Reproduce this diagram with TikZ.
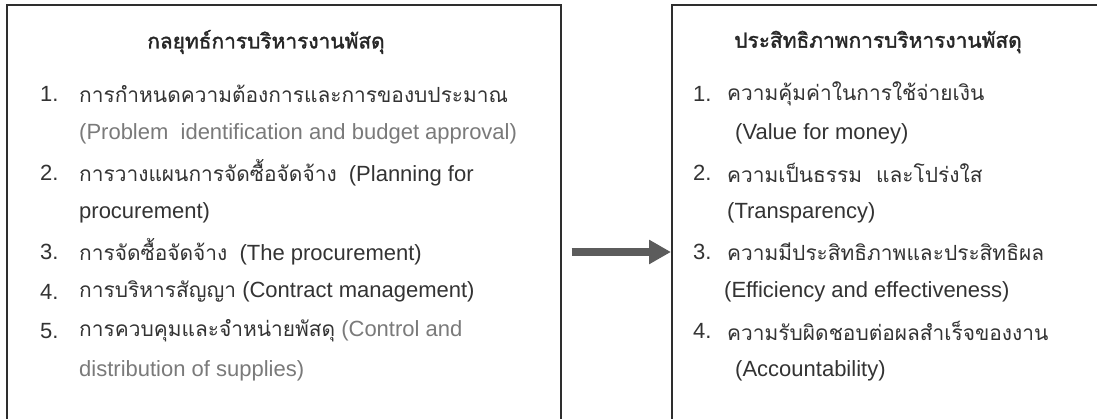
\documentclass[tikz,border=0pt]{standalone}
\usepackage{fontspec}
\setmainfont{Liberation Sans}
\newfontfamily\thai[Script=Thai,Scale=0.95]{Loma}
\newfontfamily\thaihead[Script=Thai,Scale=0.95,FakeBold=1.6]{Loma}
\usetikzlibrary{arrows.meta}
\definecolor{txt}{HTML}{333333}
\definecolor{ltxt}{HTML}{7A7A7A}
\definecolor{frame}{HTML}{2E2E2E}
\definecolor{arr}{HTML}{5C5C5C}
\tikzset{
  panel/.style={draw=frame, line width=1.6pt, anchor=north west, inner sep=0pt},
  rowtext/.style={anchor=west, inner sep=0pt, text=txt, font=\fontsize{22}{26}\selectfont},
  titletext/.style={anchor=center, inner sep=0pt, text=black!85, font=\fontsize{22}{26}\selectfont\thaihead},
  bigarrow/.style={draw=arr, line width=8pt, -{Triangle[length=22pt,width=23pt]}, shorten <=10pt}
}
\begin{document}
\begin{tikzpicture}[x=1pt,y=-1pt]
\useasboundingbox (0,0) rectangle (1097,419);
\fill[white] (0,0) rectangle (1097,419);
\node[panel, minimum width=554pt, minimum height=416pt] (lbox) at (6,4) {};
\node[panel, minimum width=440pt, minimum height=416pt] (rbox) at (671,4) {};
% left panel
\node[titletext] (ltitle) at (266,42) {กลยุทธ์การบริหารงานพัสดุ};
\node[rowtext] (ln1) at (40,94) {1.};
\node[rowtext] (lt1) at (79,94) {\thai การกำหนดความต้องการและการของบประมาณ};
\node[rowtext, text=ltxt] (lt1b) at (79,133.5) {(Problem\ \ identification and budget approval)};
\node[rowtext] (ln2) at (40,173) {2.};
\node[rowtext] (lt2) at (79,173) {{\thai การวางแผนการจัดซื้อจัดจ้าง}\ \ (Planning for};
\node[rowtext] (lt2b) at (79,212.5) {procurement)};
\node[rowtext] (ln3) at (40,252) {3.};
\node[rowtext] (lt3) at (79,252) {{\thai การจัดซื้อจัดจ้าง}\ \ (The procurement)};
\node[rowtext] (ln4) at (40,291.5) {4.};
\node[rowtext] (lt4) at (79,291.5) {{\thai การบริหารสัญญา} (Contract management)};
\node[rowtext] (ln5) at (40,331) {5.};
\node[rowtext] (lt5) at (79,331) {{\thai การควบคุมและจำหน่ายพัสดุ} \textcolor{ltxt}{(Control and}};
\node[rowtext, text=ltxt] (lt5b) at (79,370.5) {distribution of supplies)};
% right panel
\node[titletext] (rtitle) at (878,42) {ประสิทธิภาพการบริหารงานพัสดุ};
\node[rowtext] (rn1) at (693,94) {1.};
\node[rowtext] (rt1) at (727,94) {\thai ความคุ้มค่าในการใช้จ่ายเงิน};
\node[rowtext] (rt1b) at (735,133.5) {(Value for money)};
\node[rowtext] (rn2) at (693,173) {2.};
\node[rowtext] (rt2) at (727,173) {\thai ความเป็นธรรม\ \ และโปร่งใส};
\node[rowtext] (rt2b) at (727,212.5) {(Transparency)};
\node[rowtext] (rn3) at (693,252) {3.};
\node[rowtext] (rt3) at (727,252) {\thai ความมีประสิทธิภาพและประสิทธิผล};
\node[rowtext] (rt3b) at (724,291.5) {(Efficiency and effectiveness)};
\node[rowtext] (rn4) at (693,331) {4.};
\node[rowtext] (rt4) at (727,331) {\thai ความรับผิดชอบต่อผลสำเร็จของงาน};
\node[rowtext] (rt4b) at (735,370.5) {(Accountability)};
% connector
\draw[bigarrow] (lbox.east |- rn3.center) -- (rbox.west |- rn3.center);
\end{tikzpicture}
\end{document}
